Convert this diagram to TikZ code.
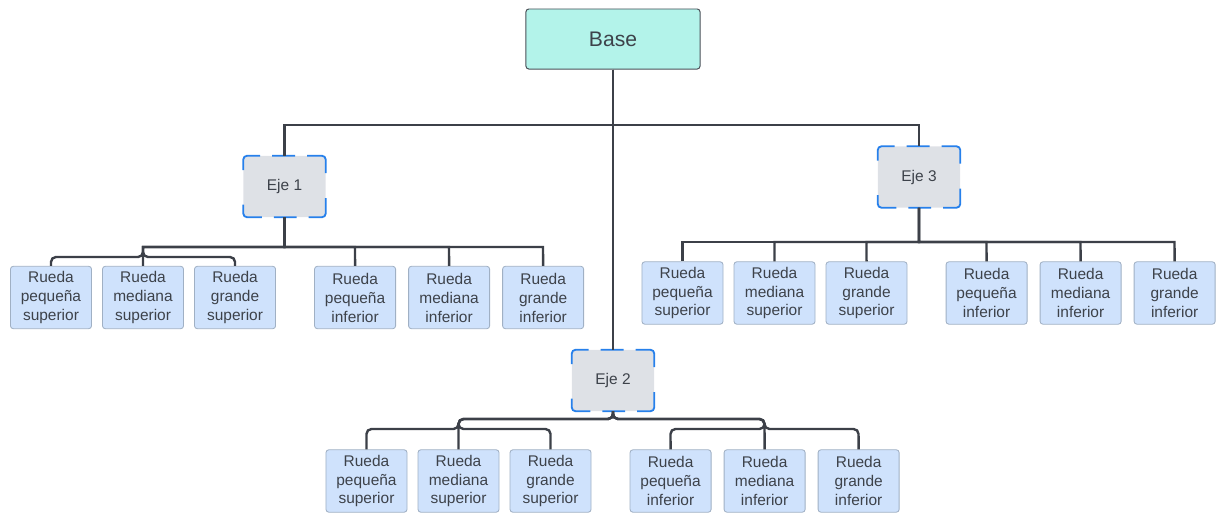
\documentclass[tikz,border=0pt]{standalone}
\usepackage{fontspec}
\setmainfont{Liberation Sans}
\usepackage{tikz}
\usetikzlibrary{arrows,shapes,positioning}
\usepackage{xcolor}
\definecolor{basefill}{RGB}{179,243,234}
\definecolor{basedraw}{RGB}{74,79,87}
\definecolor{ejefill}{RGB}{222,225,230}
\definecolor{ejeblue}{RGB}{38,128,235}
\definecolor{ruedafill}{RGB}{207,226,252}
\definecolor{ruedadraw}{RGB}{160,176,196}
\definecolor{linecol}{RGB}{60,64,72}
\definecolor{textcol}{RGB}{61,66,74}
\tikzstyle{basebox} = [rectangle, rounded corners=2pt, minimum width=4.35cm, minimum height=1.5cm, text centered, draw=basedraw, fill=basefill, line width=0.7pt, text=textcol, font=\fontsize{15}{18}\selectfont]
\tikzstyle{eje} = [rectangle, rounded corners=2.8pt, minimum width=2.05cm, minimum height=1.525cm, text centered, fill=ejefill, text=textcol, font=\fontsize{11}{13.5}\selectfont]
\tikzstyle{ejeborde} = [line width=1.3pt, color=ejeblue, rounded corners=2.8pt, dash pattern=on 21pt off 8.5pt on 16.3pt off 8.5pt on 24.5pt off 17.7pt on 24.5pt off 8.5pt on 16.3pt off 8.5pt on 21pt off 17.7pt, dash phase=184.15pt]
\tikzstyle{rueda} = [rectangle, rounded corners=2pt, minimum width=2.025cm, minimum height=1.56cm, align=center, inner sep=1pt, draw=ruedadraw, fill=ruedafill, line width=0.6pt, text=textcol, font=\fontsize{11}{13.5}\selectfont]
\tikzstyle{conector} = [line width=1.7pt, color=linecol]
\tikzstyle{curva} = [rounded corners=3.5pt]

\begin{document}
\begin{tikzpicture}[x=0.025cm, y=-0.025cm]
\useasboundingbox (0,0) rectangle (1217,513);

% Base and axles
\node (base) [basebox] at (613,39) {Base};
\node (eje1) [eje] at (284.5,186.5) {Eje 1};
\node (eje2) [eje] at (613,380.5) {Eje 2};
\node (eje3) [eje] at (919,177) {Eje 3};

% Wheels of Eje 1
\node (e1ps) [rueda] at (51,297.5) {Rueda\\pequeña\\superior};
\node (e1ms) [rueda, right of=e1ps, node distance=2.3cm] {Rueda\\mediana\\superior};
\node (e1gs) [rueda, right of=e1ms, node distance=2.3cm] {Rueda\\grande\\superior};
\node (e1pi) [rueda, right of=e1gs, node distance=3cm] {Rueda\\pequeña\\inferior};
\node (e1mi) [rueda, right of=e1pi, node distance=2.35cm] {Rueda\\mediana\\inferior};
\node (e1gi) [rueda, right of=e1mi, node distance=2.35cm] {Rueda\\grande\\inferior};

% Wheels of Eje 3
\node (e3ps) [rueda] at (682.5,293) {Rueda\\pequeña\\superior};
\node (e3ms) [rueda, right of=e3ps, node distance=2.3cm] {Rueda\\mediana\\superior};
\node (e3gs) [rueda, right of=e3ms, node distance=2.3cm] {Rueda\\grande\\superior};
\node (e3pi) [rueda, right of=e3gs, node distance=3cm] {Rueda\\pequeña\\inferior};
\node (e3mi) [rueda, right of=e3pi, node distance=2.35cm] {Rueda\\mediana\\inferior};
\node (e3gi) [rueda, right of=e3mi, node distance=2.35cm] {Rueda\\grande\\inferior};

% Wheels of Eje 2
\node (e2ps) [rueda] at (366.5,481) {Rueda\\pequeña\\superior};
\node (e2ms) [rueda, right of=e2ps, node distance=2.3cm] {Rueda\\mediana\\superior};
\node (e2gs) [rueda, right of=e2ms, node distance=2.3cm] {Rueda\\grande\\superior};
\node (e2pi) [rueda, right of=e2gs, node distance=3cm] {Rueda\\pequeña\\inferior};
\node (e2mi) [rueda, right of=e2pi, node distance=2.35cm] {Rueda\\mediana\\inferior};
\node (e2gi) [rueda, right of=e2mi, node distance=2.35cm] {Rueda\\grande\\inferior};

% Dashed borders
\draw[ejeborde] (eje1.west) |- (eje1.north east) |- (eje1.south west) -- cycle;
\draw[ejeborde] (eje2.west) |- (eje2.north east) |- (eje2.south west) -- cycle;
\draw[ejeborde] (eje3.west) |- (eje3.north east) |- (eje3.south west) -- cycle;

% Base to axles
\draw[conector] (base.south) |- (284.5,125) [curva] -- (eje1.north);
\draw[conector] (base.south) |- (919,125) [curva] -- (eje3.north);
\draw[conector] (base.south) -- (eje2.north);

% Eje 1 to wheels
\draw[conector] (eje1.south) |- (143,247) [curva] |- (51,257) -- (e1ps.north);
\draw[conector] (eje1.south) |- (143,247) [curva] -- (e1ms.north);
\draw[conector] (eje1.south) |- (143,247) [curva] |- (235,257) -- (e1gs.north);
\draw[conector] (eje1.south) |- (355,247) [curva] -- (e1pi.north);
\draw[conector] (eje1.south) |- (449,247) [curva] -- (e1mi.north);
\draw[conector] (eje1.south) |- (543,247) [curva] -- (e1gi.north);

% Eje 2 to wheels
\draw[conector, curva] (eje2.south) |- (458.5,419) |- (366.5,429) -- (e2ps.north);
\draw[conector, curva] (eje2.south) |- (458.5,419) -- (e2ms.north);
\draw[conector, curva] (eje2.south) |- (458.5,419) |- (550.5,429) -- (e2gs.north);
\draw[conector, curva] (eje2.south) |- (764.5,419) |- (670.5,429) -- (e2pi.north);
\draw[conector, curva] (eje2.south) |- (764.5,419) -- (e2mi.north);
\draw[conector, curva] (eje2.south) |- (764.5,419) |- (858.5,429) -- (e2gi.north);

% Eje 3 to wheels
\draw[conector] (eje3.south) |- (682.5,242) [curva] -- (e3ps.north);
\draw[conector] (eje3.south) |- (774.5,242) [curva] -- (e3ms.north);
\draw[conector] (eje3.south) |- (866.5,242) [curva] -- (e3gs.north);
\draw[conector] (eje3.south) |- (986.5,242) [curva] -- (e3pi.north);
\draw[conector] (eje3.south) |- (1080.5,242) [curva] -- (e3mi.north);
\draw[conector] (eje3.south) |- (1174.5,242) [curva] -- (e3gi.north);
\end{tikzpicture}
\end{document}
